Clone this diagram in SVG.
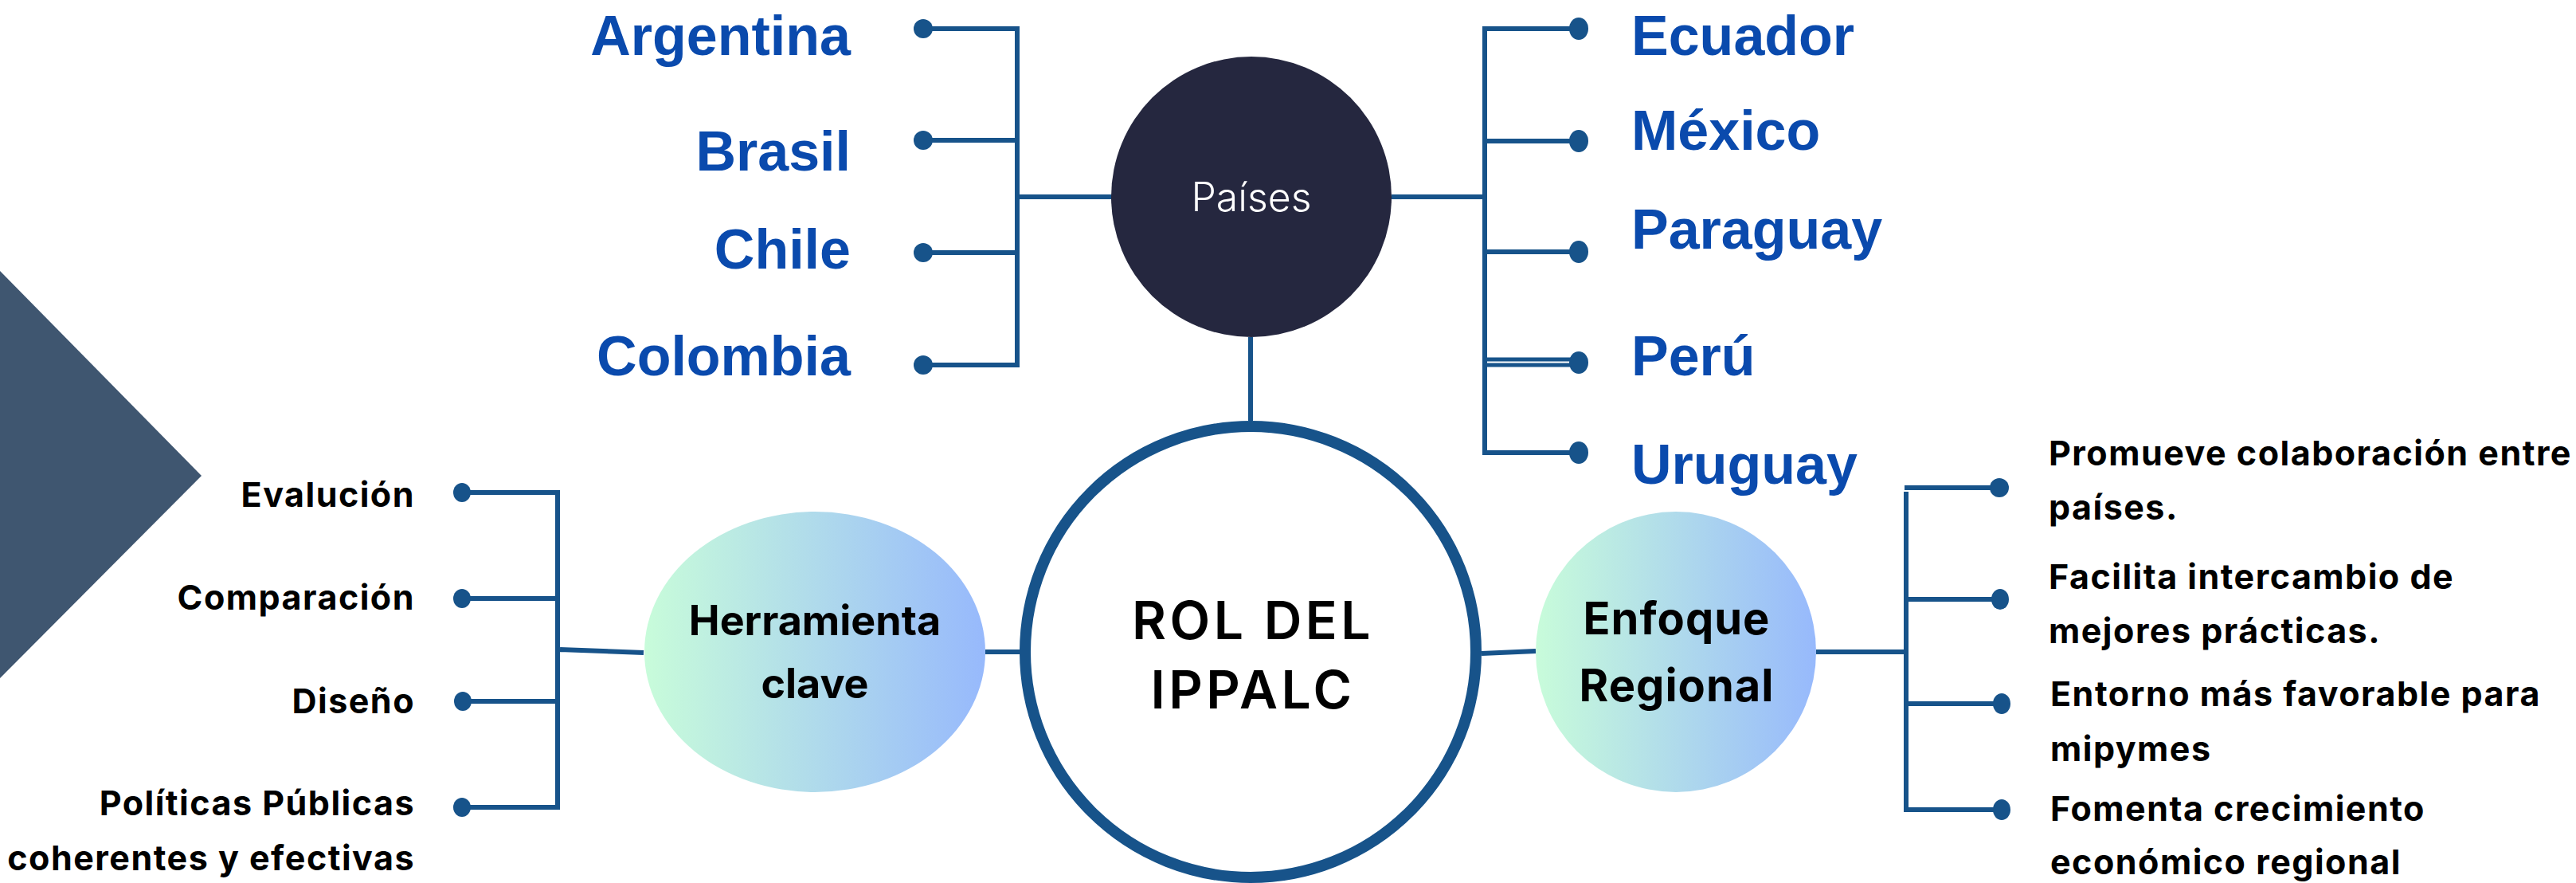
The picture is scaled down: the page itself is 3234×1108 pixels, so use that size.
<svg xmlns="http://www.w3.org/2000/svg" width="3234" height="1108" viewBox="0 0 3234 1108">
<defs>
<linearGradient id="g" x1="0" y1="0" x2="1" y2="0">
<stop offset="0" stop-color="#c8fcda"/>
<stop offset="1" stop-color="#97b9fc"/>
</linearGradient>
<style>
.ln{stroke:#17538a;stroke-width:6;fill:none}
.dot{fill:#17538a}
.cty{font-family:"Liberation Sans",Arial,sans-serif;font-weight:bold;font-size:70px;fill:#0a4aad}
.itm{font-family:Inter,"Noto Sans",sans-serif;font-weight:700;font-size:43px;letter-spacing:1.5px;fill:#000}
.hub{font-family:Inter,"Noto Sans",sans-serif;font-weight:700;font-size:52px;fill:#000;text-anchor:middle}
.hub2{font-family:Inter,"Noto Sans",sans-serif;font-weight:700;font-size:56px;letter-spacing:1px;fill:#000;text-anchor:middle}
</style>
</defs>
<rect width="3234" height="1108" fill="#fff"/>
<polygon points="0,340 253,597 0,851" fill="#3f5670"/>

<g id="connectors">
<path class="ln" d="M1159,36 H1277 M1159,176 H1277 M1159,317 H1277 M1159,458 H1280 M1277,33 V461 M1277,247 H1396"/>
<path class="ln" d="M1570,423 V528"/>
<path class="ln" d="M1747,247 H1866 M1864,33 V571 M1864,36 H1982 M1864,177 H1982 M1864,316 H1982 M1864,568 H1982"/>
<path class="ln" style="stroke-width:5" d="M1864,451 H1982 M1864,458 H1982"/>
<path class="ln" d="M580,618 H703 M580,751 H703 M581,880 H703 M580,1013 H703 M700,615 V1016 M703,815 L808,819"/>
<path class="ln" d="M1237,818 H1281 M1860,820 L1928,817 M2280,818 H2393"/>
<path class="ln" d="M2393,617 V1019 M2391,612 H2510 M2393,752 H2511 M2393,883 H2513 M2393,1016 H2513"/>
<circle class="dot" cx="1159" cy="36" r="12"/>
<circle class="dot" cx="1159" cy="176" r="12"/>
<circle class="dot" cx="1159" cy="317" r="12"/>
<circle class="dot" cx="1159" cy="458" r="12"/>
<ellipse class="dot" cx="1982" cy="36" rx="12" ry="14"/>
<ellipse class="dot" cx="1982" cy="177" rx="12" ry="14"/>
<ellipse class="dot" cx="1982" cy="316" rx="12" ry="14"/>
<ellipse class="dot" cx="1982" cy="455" rx="12" ry="14"/>
<ellipse class="dot" cx="1982" cy="568" rx="12" ry="14"/>
<ellipse class="dot" cx="580" cy="618" rx="11" ry="12"/>
<ellipse class="dot" cx="580" cy="751" rx="11" ry="12"/>
<ellipse class="dot" cx="581" cy="880" rx="11" ry="12"/>
<ellipse class="dot" cx="580" cy="1013" rx="11" ry="12"/>
<circle class="dot" cx="2510" cy="612" r="12"/>
<ellipse class="dot" cx="2511" cy="752" rx="11" ry="13"/>
<ellipse class="dot" cx="2513" cy="883" rx="11" ry="13"/>
<ellipse class="dot" cx="2513" cy="1016" rx="11" ry="13"/>
</g>

<g id="paises">
<circle cx="1571" cy="247" r="176" fill="#25273f"/>
<text x="1571" y="265" text-anchor="middle" font-family="Inter,'Noto Sans',sans-serif" font-weight="300" font-size="50" fill="#fff">Países</text>
</g>

<g id="countries-left" class="cty" text-anchor="end">
<text x="1068" y="69">Argentina</text>
<text x="1068" y="214">Brasil</text>
<text x="1068" y="337">Chile</text>
<text x="1068" y="471">Colombia</text>
</g>

<g id="countries-right" class="cty">
<text x="2048" y="69">Ecuador</text>
<text x="2048" y="188">México</text>
<text x="2048" y="312">Paraguay</text>
<text x="2048" y="471">Perú</text>
<text x="2048" y="607">Uruguay</text>
</g>

<g id="rol">
<circle cx="1570" cy="818" r="283" fill="#fff" stroke="#17538a" stroke-width="14"/>
<text x="1573" y="802" text-anchor="middle" font-family="Inter,'Noto Sans',sans-serif" font-weight="600" font-size="66" letter-spacing="4.5" fill="#000">ROL DEL</text>
<text x="1573" y="889" text-anchor="middle" font-family="Inter,'Noto Sans',sans-serif" font-weight="600" font-size="66" letter-spacing="4.5" fill="#000">IPPALC</text>
</g>

<g id="herramienta">
<ellipse cx="1023" cy="818" rx="214" ry="176" fill="url(#g)"/>
<text class="hub" x="1023" y="797">Herramienta</text>
<text class="hub" x="1023" y="876">clave</text>
</g>

<g id="enfoque">
<ellipse cx="2104" cy="818" rx="176" ry="176" fill="url(#g)"/>
<text class="hub2" x="2105" y="796">Enfoque</text>
<text class="hub2" x="2105" y="880">Regional</text>
</g>

<g id="items-left" class="itm" text-anchor="end">
<text x="521" y="636">Evalución</text>
<text x="521" y="765">Comparación</text>
<text x="521" y="895">Diseño</text>
<text x="521" y="1023">Políticas Públicas</text>
<text x="521" y="1092">coherentes y efectivas</text>
</g>

<g id="items-right" class="itm">
<text x="2572" y="584">Promueve colaboración entre</text>
<text x="2572" y="652">países.</text>
<text x="2572" y="739">Facilita intercambio de</text>
<text x="2572" y="807">mejores prácticas.</text>
<text x="2574" y="886">Entorno más favorable para</text>
<text x="2574" y="955">mipymes</text>
<text x="2574" y="1030">Fomenta crecimiento</text>
<text x="2574" y="1097">económico regional</text>
</g>
</svg>
